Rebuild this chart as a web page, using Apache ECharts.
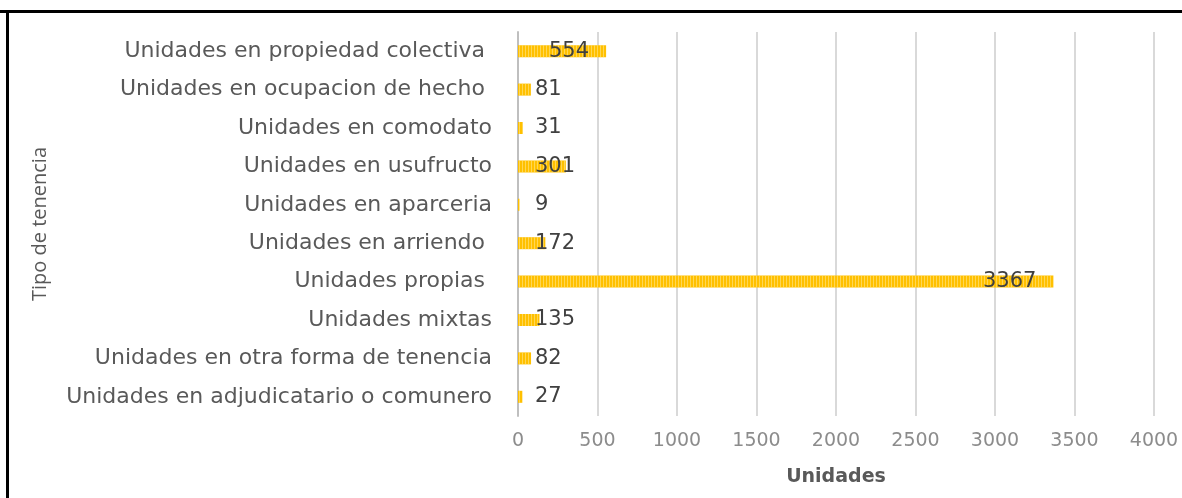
<!DOCTYPE html>
<html>
<head>
<meta charset="utf-8">
<script src="https://cdn.jsdelivr.net/npm/echarts@6/dist/echarts.min.js"></script>
<style>
  html, body { margin: 0; padding: 0; background: #fff; }
  #chart { width: 1182px; height: 498px; }
</style>
</head>
<body>
<div id="chart"></div>
<script>
// categories, top to bottom as drawn (some carry a trailing space, as in the source)
const categories = [
  'Unidades en propiedad colectiva ',
  'Unidades en ocupacion de hecho ',
  'Unidades en comodato',
  'Unidades en usufructo',
  'Unidades en aparceria',
  'Unidades en arriendo ',
  'Unidades propias ',
  'Unidades mixtas',
  'Unidades en otra forma de tenencia',
  'Unidades en adjudicatario o comunero'
];
const unidades = [554, 81, 31, 301, 9, 172, 3367, 135, 82, 27];
const xTicks = [0, 500, 1000, 1500, 2000, 2500, 3000, 3500, 4000];

const chart = echarts.init(document.getElementById('chart'));

// big bars get their label inside the end, the rest sit just past the axis
const barData = unidades.map(function (v) {
  const big = v > 500;
  return {
    value: v,
    label: big
      ? { position: 'insideRight', distance: 17 }
      : { position: [17, '50%'], align: 'left', verticalAlign: 'middle' }
  };
});

const options = {
  animation: false,
  grid: { left: 518, right: 28, top: 32, bottom: 82 },
  xAxis: {
    type: 'value',
    min: xTicks[0],
    max: xTicks[xTicks.length - 1],
    interval: 500,
    name: 'Unidades',
    nameLocation: 'middle',
    nameGap: 52,
    nameTextStyle: { fontFamily: 'DejaVu Sans', fontSize: 19, fontWeight: 'bold', color: '#595959' },
    axisLine: { show: false },
    axisTick: { show: false },
    axisLabel: {
      margin: 16,
      fontFamily: 'DejaVu Sans',
      fontSize: 19,
      color: '#8c8c8c',
      formatter: function (v) { return String(v); }
    },
    splitLine: { show: true, lineStyle: { color: '#d9d9d9', width: 2 } }
  },
  yAxis: {
    type: 'category',
    inverse: true,
    data: categories,
    name: 'Tipo de tenencia',
    nameLocation: 'middle',
    nameRotate: 90,
    nameGap: 468,
    nameTextStyle: { fontFamily: 'Open Sans', fontSize: 20, color: '#595959' },
    axisLine: { show: true, lineStyle: { color: '#bfbfbf', width: 2 } },
    axisTick: { show: false },
    axisLabel: { margin: 26, fontFamily: 'DejaVu Sans', fontSize: 22, color: '#595959' }
  },
  series: [
    {
      type: 'bar',
      data: barData,
      barWidth: 12,
      itemStyle: {
        color: '#ffc000',
        decal: {
          symbol: 'rect',
          symbolSize: 1,
          dashArrayX: [1, 2],
          dashArrayY: [20, 0],
          color: 'rgba(255, 230, 140, 0.6)'
        }
      },
      label: {
        show: true,
        fontFamily: 'DejaVu Sans',
        fontSize: 21,
        color: '#404040'
      }
    }
  ],
  graphic: [
    { type: 'rect', shape: { x: 0, y: 10, width: 1182, height: 3 }, style: { fill: '#000' } },
    { type: 'rect', shape: { x: 6, y: 10, width: 3, height: 488 }, style: { fill: '#000' } }
  ]
};

chart.setOption(options);
</script>
</body>
</html>
